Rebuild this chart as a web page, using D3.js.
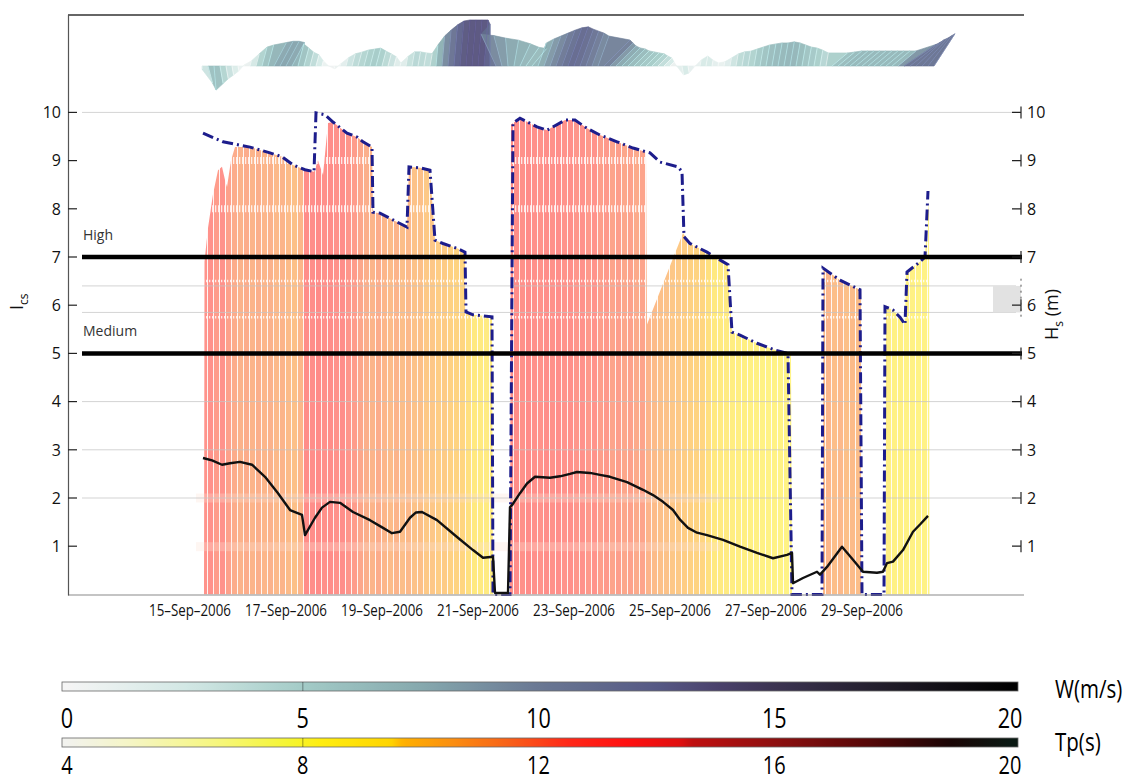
<!DOCTYPE html>
<html>
<head>
<meta charset="utf-8">
<script src="https://cdn.jsdelivr.net/npm/d3@7"></script>
<style>
  body { margin: 0; background: #fff; }
  svg { display: block; }
</style>
</head>
<body>
<svg id="chart" width="1133" height="782"></svg>
<script>
// ---------------------------------------------------------------------------
// Storm series, September 2006. Times are hours after 15-Sep-2006 00:00 UTC.
// ---------------------------------------------------------------------------
const startDate = Date.UTC(2006, 8, 15);

// Significant wave height Hs (m) - dash-dot envelope
const hsHours  = [6.5,16.5,25,30,40,46,51.5,57.5,62,63,67.5,71.5,78.5,83.5,86.5,91,91.5,95,101.5,108.5,109.5,115,120,122.5,126.5,133.5,137.5,138,141.5,151,151.5,160,161.5,165,173.5,178.5,187.5,192.5,198.5,205,213.5,221.5,230,235,244,246,247,250,258.5,269,271,275,283.5,292.5,299,301,316,316.5,325,335,336,347,347.5,351.5,355,357.5,358.5,365,367.5,369];
const hsValues = [9.57,9.39,9.32,9.28,9.16,9.08,8.91,8.81,8.77,9.99,9.95,9.8,9.57,9.49,9.39,9.28,7.93,7.91,7.77,7.62,8.87,8.85,8.8,7.35,7.28,7.18,7.1,5.86,5.8,5.76,0,0,9.78,9.88,9.7,9.63,9.84,9.84,9.67,9.53,9.39,9.26,9.16,8.97,8.87,8.77,7.42,7.28,7.1,6.84,5.44,5.38,5.21,5.07,5.0,0,0,6.77,6.52,6.32,0,0,5.97,5.9,5.75,5.6,6.69,6.9,7.0,8.37];

// Upper edge of the Tp-coloured band (null separates the recorded blocks)
const bandHours  = [7,7.25,9,11.5,14,16,17.5,18.5,20.5,22.5,30,40,46,51.5,57.5,62,64,66.5,69,71.5,78.5,83.5,86.5,91,91.5,95,101.5,108.5,109.5,115,120,122.5,126.5,133.5,137.5,138,141.5,151,151.5,
                    null,
                    160,160.5,165,173.5,178.5,187.5,192.5,198.5,205,213.5,221.5,228,228.5,246.5,250,258.5,269,271,275,283.5,292.5,299,300.5,301,
                    null,
                    316.5,316.75,325,335,335.75,336,
                    null,
                    347.5,347.75,351.5,355,357.5,358,365,367.5,369.5,369.75];
const bandValues = [0,6.9,7.6,8.3,8.8,8.87,8.6,8.45,9.0,9.28,9.28,9.16,9.08,8.91,8.81,8.77,9.0,8.7,9.78,9.8,9.57,9.49,9.39,9.28,7.93,7.91,7.77,7.62,8.87,8.85,8.8,7.35,7.28,7.18,7.1,5.86,5.8,5.76,0,
                    null,
                    0,9.75,9.88,9.7,9.63,9.84,9.84,9.67,9.53,9.39,9.26,9.18,5.6,7.5,7.28,7.1,6.84,5.44,5.38,5.21,5.07,5.0,4.98,0,
                    null,
                    0,6.77,6.52,6.32,6.3,0,
                    null,
                    0,5.97,5.9,5.75,5.62,6.69,6.9,7.05,8.15,0];

// Peak period Tp (s), 3-hourly from hour 6
const tpHours = d3.range(6, 370, 3);
const tpValues = [12.5,12.6,12.2,12.6,12.0,11.6,11.4,11.6,11.3,11.5,11.2,11.4,11.1,11.3,11.0,10.8,11.2,13.0,12.9,13.2,12.8,13.0,12.7,12.9,12.4,12.2,11.8,11.5,11.3,11.6,11.2,11.0,11.3,10.9,11.1,10.7,10.8,10.4,10.5,10.2,10.3,10.0,9.9,9.8,9.6,9.5,9.4,9.3,9.2,
                  null,null,
                  12.8,13.0,12.7,13.1,12.8,12.6,13.0,12.7,12.9,12.5,12.8,12.4,12.6,12.3,12.5,12.1,12.3,11.9,12.1,11.8,12.0,11.7,11.9,11.3,11.0,10.8,10.7,10.5,10.4,10.2,10.0,9.9,9.8,9.6,9.5,9.4,9.3,9.2,9.1,9.0,8.9,8.9,8.8,8.7,8.7,8.6,8.6,8.5,
                  null,null,null,null,
                  11.0,11.2,10.9,11.1,10.8,11.0,10.9,
                  null,null,null,
                  8.9,9.0,8.8,8.9,8.7,8.8,8.6,8.7,8.5];

// Storm index I_cs (solid black)
const icsHours  = [6.5,11,16,20,25,31,37.5,44,50,56,57.5,62.5,66,70,75,81.5,90,96.5,101,105,110,113,116,123.5,133.5,141.5,146.5,151.5,152.5,159,160,161,165,168.5,172.5,180,185,190,193.5,200,205,210,218.5,226.5,231.5,236.5,241.5,245,249,253.5,258.5,266.5,275,283.5,291.5,298.5,301,301.5,306.5,313.5,315,318.5,326,331.5,336.5,343.5,346.5,348.5,351.5,356.5,361.5,365,369];
const icsValues = [2.83,2.78,2.69,2.72,2.75,2.69,2.44,2.1,1.75,1.65,1.23,1.59,1.8,1.92,1.9,1.71,1.54,1.38,1.27,1.3,1.59,1.7,1.71,1.54,1.19,0.92,0.76,0.78,0.03,0.03,1.81,1.85,2.1,2.3,2.44,2.42,2.45,2.5,2.54,2.52,2.48,2.44,2.33,2.17,2.06,1.92,1.75,1.55,1.38,1.28,1.23,1.13,0.99,0.86,0.75,0.82,0.86,0.23,0.34,0.47,0.41,0.57,0.99,0.72,0.47,0.45,0.47,0.65,0.68,0.92,1.3,1.45,1.63];

// Wind (speed m/s, vector heading in degrees clockwise from up), 3-hourly from hour 6
const windHours = d3.range(6, 373, 3);
const windSpeed = [0.9,5.1,6.9,5.1,3.7,2.6,1.4,0.3,1.5,3.6,5.6,6.2,7.6,8.0,8.0,7.6,6.5,5.3,4.1,3.3,1.5,0.2,0.9,0.6,2.4,3.6,4.1,4.7,5.0,5.3,4.4,3.6,2.7,0.9,2.7,4.1,4.1,3.8,3.6,
                   6.0,8.6,10.3,11.8,12.9,13.2,13.2,13.2,13.2,12.0,10.0,9.0,8.0,7.5,7.0,6.5,6.5,
                   7.0,8.2,9.1,10.0,10.9,11.6,11.9,11.2,10.6,10.0,9.1,10.5,9.3,8.1,7.3,6.9,6.1,5.7,5.3,4.9,4.0,3.2,1.6,0.2,2.6,2.0,0.3,
                   1.7,2.9,1.7,0.9,1.2,2.3,3.5,4.1,4.3,4.9,5.5,6.1,6.4,6.7,6.7,7.0,6.7,6.1,5.5,5.2,4.6,3.8,
                   5.8,6.2,6.7,6.7,6.7,6.7,6.7,6.7,6.7,6.7,6.7,6.7,11.0,11.0,11.0,11.0,11.0,11.0];
const windDir   = [180,165,175,170,170,170,170,0,15,15,15,15,28,28,28,28,15,15,15,15,15,90,160,15,15,15,15,15,15,15,15,15,15,15,10,10,10,10,10,
                   5,5,5,5,5,5,5,5,5,0,-25,-15,-5,10,25,35,40,
                   20,20,20,20,20,20,20,20,20,20,20,45,45,45,45,45,45,45,45,45,45,45,45,90,170,170,170,
                   10,10,10,10,10,10,10,10,10,10,10,10,10,10,10,10,10,10,10,10,10,10,
                   50,50,50,50,50,50,50,50,50,50,50,50,56,52,47,43,38,33];

// Alert thresholds
const thresholdValues = [7, 5];
const thresholdLabels = ["High", "Medium"];

// Axis ticks and labels
const yTicks = [1,2,3,4,5,6,7,8,9,10];
const gridValues = [10, 6.4, 5.85, 4, 3, 2];
const dateTickDays = [15,17,19,21,23,25,27,29];
const windBarTicks = [0,5,10,15,20];
const tpBarTicks = [4,8,12,16,20];

// Colour maps
const windStops  = [0,2.5,5,7.5,10,12.5,13.8,15,17.5,20];
const windColors = ["#f5f5f5","#d3e8e5","#a3cbc7","#86a9ae","#6a7893","#565985","#4a416c","#3c3452","#1f1b27","#000000"];
const tpStops  = [4,5,6.5,7.8,8.3,9.5,9.7,10.5,11.5,12.5,13.5,14.4,14.6,16,17.5,19,20];
const tpColors = ["#f2f2ee","#f5f5c8","#f6f680","#f5f530","#ffee10","#ffd400","#ffb000","#fb9010","#f86018","#ff2818","#ff1010","#e01010","#c01010","#8e1010","#5a0808","#1a0505","#0b1a14"];

// ---------------------------------------------------------------------------
const svg = d3.select("#chart");
const defs = svg.append("defs");
const HOUR = 3600e3;
const toDate = h => new Date(startDate + h * HOUR);

const x = d3.scaleUtc().domain([toDate(-61), toDate(417)]).range([68, 1024]);
const y = d3.scaleLinear().domain([0, 12]).range([594.4, 16]);
const xh = h => x(toDate(h));

const windColor = d3.scaleLinear().domain(windStops).range(windColors).clamp(true);
const tpColor = d3.scaleLinear().domain(tpStops).range(tpColors).clamp(true);

const numFont = "'Open Sans', Lato, sans-serif";

// condensed text: horizontally squeezed glyphs
function narrowText(sel, sx) {
  return sel.attr("transform", function () {
    const tx = +this.getAttribute("data-x"), ty = +this.getAttribute("data-y");
    return `translate(${tx},${ty}) scale(${sx},1)`;
  });
}

// ---- Tp-coloured band, clipped to its upper edge ----
const bandPts = bandHours.map((h, i) => ({ h, v: bandValues[i] }));
const bandArea = d3.area()
  .defined(d => d.v != null && d.h != null)
  .x(d => xh(d.h)).y0(y(0)).y1(d => y(d.v));
defs.append("clipPath").attr("id", "bandClip")
  .append("path").attr("d", bandArea(bandPts));

const bandG = svg.append("g").attr("clip-path", "url(#bandClip)");
const tpData = tpHours.map((h, i) => ({ h, tp: tpValues[i] })).filter(d => d.tp != null);
bandG.selectAll("rect.tp").data(tpData).join("rect")
  .attr("class", "tp")
  .attr("x", d => xh(d.h))
  .attr("width", d => xh(d.h + 3) - xh(d.h) - 0.9)
  .attr("y", y(12)).attr("height", y(0) - y(12))
  .attr("fill", d => tpColor(d.tp))
  .attr("fill-opacity", 0.5);

// hatched light bands across the coloured area
[[9, 7], [8, 7], [6.5, 2.5], [5.75, 2.5]].forEach(([v, w]) => {
  bandG.append("line")
    .attr("x1", 68).attr("x2", 1024).attr("y1", y(v)).attr("y2", y(v))
    .attr("stroke", "#fff").attr("stroke-width", w)
    .attr("stroke-dasharray", "1.3,1.7").attr("stroke-opacity", 0.8);
});
[2.0, 0.99].forEach(v => {
  svg.append("rect")
    .attr("x", 196).attr("width", 524)
    .attr("y", y(v) - 4.5).attr("height", 9)
    .attr("fill", "#fbe0d4").attr("fill-opacity", 0.3);
});

// ---- gridlines ----
svg.append("g").selectAll("line").data(gridValues).join("line")
  .attr("x1", 82).attr("x2", 1016)
  .attr("y1", d => y(d)).attr("y2", d => y(d))
  .attr("stroke", "#c4c4c4").attr("stroke-width", 1).attr("stroke-opacity", 0.75);
svg.append("rect")
  .attr("x", 993).attr("width", 28)
  .attr("y", y(6.4)).attr("height", y(5.85) - y(6.4))
  .attr("fill", "#e2e2e2");

// ---- Hs dash-dot line ----
const hsPts = hsHours.map((h, i) => ({ h, v: hsValues[i] }));
svg.append("path")
  .attr("d", d3.line().x(d => xh(d.h)).y(d => y(d.v))(hsPts))
  .attr("fill", "none").attr("stroke", "#1d1d8c")
  .attr("stroke-width", 3).attr("stroke-dasharray", "11,4,2,4");

// ---- thresholds ----
svg.append("g").selectAll("line").data(thresholdValues).join("line")
  .attr("x1", 82).attr("x2", 1022)
  .attr("y1", d => y(d)).attr("y2", d => y(d))
  .attr("stroke", "#000").attr("stroke-width", 4.5);
svg.append("g").selectAll("text").data(thresholdValues).join("text")
  .attr("x", 83).attr("y", d => y(d) - 17)
  .attr("font-family", numFont).attr("font-size", 14).attr("fill", "#333")
  .text((d, i) => thresholdLabels[i]);

// ---- I_cs line ----
const icsPts = icsHours.map((h, i) => ({ h, v: icsValues[i] }));
svg.append("path")
  .attr("d", d3.line().x(d => xh(d.h)).y(d => y(d.v))(icsPts))
  .attr("fill", "none").attr("stroke", "#111")
  .attr("stroke-width", 2.4).attr("stroke-linejoin", "round");

// ---- frame and axes ----
svg.append("line").attr("x1", 68).attr("x2", 1024).attr("y1", 15).attr("y2", 15)
  .attr("stroke", "#333").attr("stroke-width", 1.3);
svg.append("line").attr("x1", 68).attr("x2", 1024).attr("y1", y(0) + 0.6).attr("y2", y(0) + 0.6)
  .attr("stroke", "#8a8a8a").attr("stroke-width", 1.2);
svg.append("line").attr("x1", 68.5).attr("x2", 68.5).attr("y1", 15).attr("y2", y(0) + 1)
  .attr("stroke", "#555").attr("stroke-width", 1.2);

const leftAxis = svg.append("g");
leftAxis.selectAll("line").data(yTicks).join("line")
  .attr("x1", 68).attr("x2", 77).attr("y1", d => y(d)).attr("y2", d => y(d))
  .attr("stroke", "#222").attr("stroke-width", 1.2);
leftAxis.selectAll("text").data(yTicks).join("text")
  .attr("x", 61).attr("y", d => y(d)).attr("dy", "0.36em")
  .attr("text-anchor", "end").attr("font-family", numFont).attr("font-size", 16).attr("fill", "#111")
  .text(d => d);

const rightAxis = svg.append("g");
rightAxis.selectAll("path").data(yTicks).join("path")
  .attr("d", d => `M1012,${y(d)}H1021M1021,${y(d) - 6}V${y(d) + 6}`)
  .attr("fill", "none").attr("stroke", "#222").attr("stroke-width", 1.2);
rightAxis.selectAll("text").data(yTicks).join("text")
  .attr("x", 1027).attr("y", d => y(d)).attr("dy", "0.36em")
  .attr("font-family", numFont).attr("font-size", 16).attr("fill", "#111")
  .text(d => d);
svg.append("line").attr("x1", 1021).attr("x2", 1021).attr("y1", y(6.55)).attr("y2", y(5.7))
  .attr("stroke", "#555").attr("stroke-dasharray", "2,4");

// axis titles
const lt = svg.append("text").attr("transform", "translate(23,310) rotate(-90)")
  .attr("font-family", numFont).attr("font-size", 18).attr("fill", "#111");
lt.append("tspan").text("I");
lt.append("tspan").attr("font-size", 12).attr("dy", 5).text("cs");
const rt = svg.append("text").attr("transform", "translate(1058,340) rotate(-90)")
  .attr("font-family", numFont).attr("font-size", 18).attr("fill", "#111");
rt.append("tspan").text("H");
rt.append("tspan").attr("font-size", 12).attr("dy", 5).text("s");
rt.append("tspan").attr("dy", -5).text(" (m)");

// date labels
const fmt = d3.utcFormat("%d\u2013%b\u2013%Y");
svg.append("g").selectAll("text").data(dateTickDays).join("text")
  .attr("data-x", d => x(new Date(Date.UTC(2006, 8, d))))
  .attr("data-y", 616).attr("text-anchor", "middle")
  .attr("font-family", numFont).attr("font-size", 15.5).attr("fill", "#111")
  .text(d => fmt(new Date(Date.UTC(2006, 8, d))))
  .call(narrowText, 0.86);

// ---- wind feather strip ----
const featherBase = 66, featherScale = 3.5;
const wind = windHours.map((h, i) => {
  const bx = xh(h), r = windSpeed[i] * featherScale, a = windDir[i] * Math.PI / 180;
  return { bx, tx: bx + r * Math.sin(a), ty: featherBase - r * Math.cos(a), w: windSpeed[i] };
});
const featherG = svg.append("g");
featherG.selectAll("path").data(d3.pairs(wind)).join("path")
  .attr("d", ([a, b]) => `M${a.bx},${featherBase}L${a.tx},${a.ty}L${b.tx},${b.ty}L${b.bx},${featherBase}Z`)
  .attr("fill", ([a, b]) => windColor((a.w + b.w) / 2))
  .attr("stroke", ([a, b]) => windColor((a.w + b.w) / 2))
  .attr("stroke-width", 0.6).attr("fill-opacity", 0.92);
featherG.selectAll("line").data(wind).join("line")
  .attr("x1", d => d.bx).attr("y1", featherBase).attr("x2", d => d.tx).attr("y2", d => d.ty)
  .attr("stroke", d => d3.color(windColor(d.w)).brighter(0.9))
  .attr("stroke-width", 0.8).attr("stroke-opacity", 0.7);

// ---- colour bars ----
function colorBar(id, yTop, lo, hi, colorScale, ticks, labelY, labelSize, title, titleY) {
  const sc = d3.scaleLinear().domain([lo, hi]).range([67, 1010]);
  const grad = defs.append("linearGradient").attr("id", id)
    .attr("gradientUnits", "userSpaceOnUse").attr("x1", 62).attr("x2", 1018).attr("y1", 0).attr("y2", 0);
  grad.selectAll("stop").data(d3.range(0, 1.0001, 0.005)).join("stop")
    .attr("offset", d => d)
    .attr("stop-color", d => colorScale(sc.invert(62 + d * 956)));
  svg.append("rect").attr("x", 62).attr("y", yTop).attr("width", 956).attr("height", 9)
    .attr("fill", `url(#${id})`).attr("stroke", "#666").attr("stroke-width", 0.8);
  svg.append("line").attr("x1", sc(ticks[1])).attr("x2", sc(ticks[1]))
    .attr("y1", yTop).attr("y2", yTop + 9).attr("stroke", "#000").attr("stroke-opacity", 0.25).attr("stroke-width", 1.5);
  svg.append("g").selectAll("text").data(ticks).join("text")
    .attr("data-x", d => sc(d)).attr("data-y", labelY).attr("text-anchor", "middle")
    .attr("font-family", numFont).attr("font-size", labelSize).attr("fill", "#000")
    .text(d => d)
    .call(narrowText, 0.8);
  svg.append("text").attr("data-x", 1055).attr("data-y", titleY)
    .attr("font-family", numFont).attr("font-size", 25).attr("fill", "#000")
    .text(title)
    .call(narrowText, 0.82);
}
colorBar("windGrad", 682, 0, 20, windColor, windBarTicks, 728, 27, "W(m/s)", 698);
colorBar("tpGrad", 738, 4, 20, tpColor, tpBarTicks, 774, 25, "Tp(s)", 751);
</script>
</body>
</html>
